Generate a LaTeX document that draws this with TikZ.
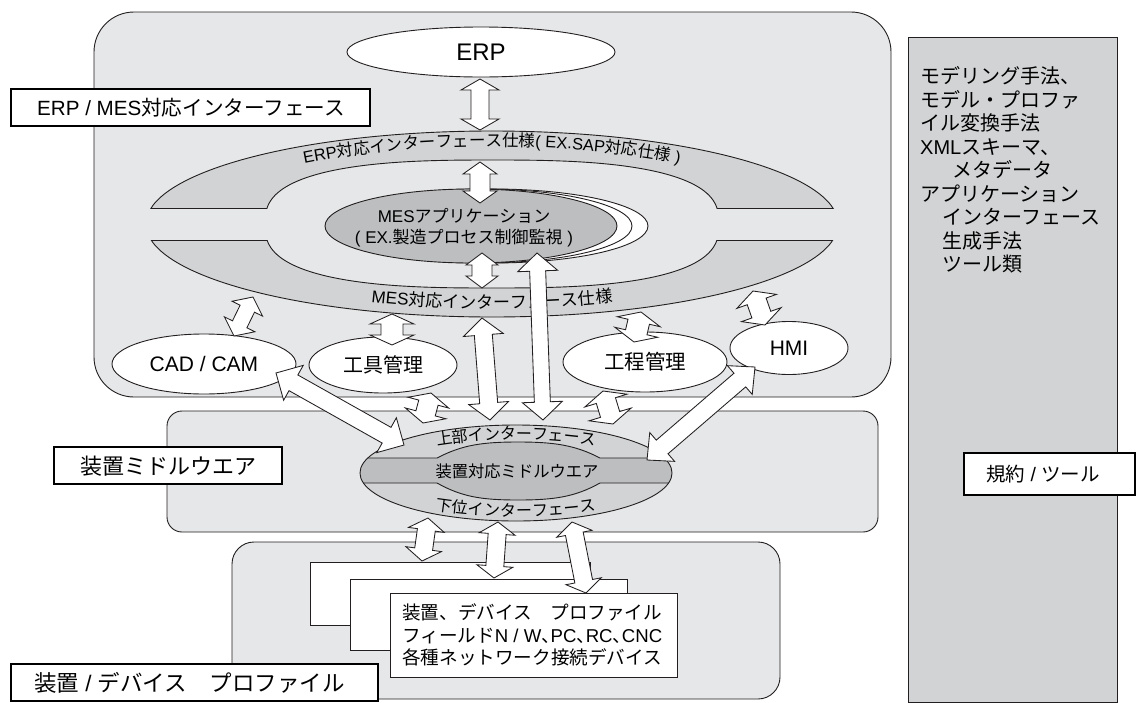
\documentclass[tikz,border=0pt]{standalone}
\usepackage{fontspec}
\setmainfont{Noto Sans CJK JP}
\newfontfamily\jp{Noto Sans CJK JP}
\newfontfamily\lat{Liberation Sans}
\usetikzlibrary{calc,shapes.geometric,decorations.text}
\definecolor{bgA}{HTML}{E6E7E8}
\definecolor{bandC}{HTML}{D1D3D4}
\definecolor{darkC}{HTML}{BCBEC0}
\definecolor{lineC}{HTML}{231F20}
\newcommand\fs[1]{\fontsize{#1}{#1}\selectfont}
\newcommand\hten{\makebox[0.5em][l]{、}}
\newcommand\barrow[5]{%
 \draw[blockarrow] (#1)
 -- ($(#1)!#5pt!(#2)!#4pt!90:(#2)$)
 -- ($(#1)!#5pt!(#2)!#3pt!90:(#2)$)
 -- ($(#2)!#5pt!(#1)!#3pt!-90:(#1)$)
 -- ($(#2)!#5pt!(#1)!#4pt!-90:(#1)$)
 -- (#2)
 -- ($(#2)!#5pt!(#1)!#4pt!90:(#1)$)
 -- ($(#2)!#5pt!(#1)!#3pt!90:(#1)$)
 -- ($(#1)!#5pt!(#2)!#3pt!-90:(#2)$)
 -- ($(#1)!#5pt!(#2)!#4pt!-90:(#2)$)
 -- cycle;}
\begin{document}
\begin{tikzpicture}[x=1pt,y=-1pt,
 rbox/.style={draw=lineC, line width=0.9pt, fill=bgA},
 ln/.style={draw=lineC, line width=0.9pt},
 ell/.style={ellipse, draw=lineC, fill=white, line width=0.9pt, inner sep=0pt},
 blockarrow/.style={draw=lineC, fill=white, line width=0.85pt, line join=miter},
 tag/.style={draw=black, line width=2.4pt, fill=white, inner sep=0pt},
 tagtext/.style={anchor=west, inner sep=0pt}]
\useasboundingbox (0,0) rectangle (1136,702);
\fill[white] (0,0) rectangle (1136,702);

% right column
\draw[ln, fill=bandC] (908,37) rectangle (1117,702);
\node[anchor=west, align=left, inner sep=0pt, font=\fontsize{20}{23.5}\selectfont] (rcol) at (920,170)
 {モデリング手法、\\モデル・プロファ\\イル変換手法\\{\lat XML}スキーマ、\\\hspace*{32pt}メタデータ\\アプリケーション\\\hspace*{22pt}インターフェース\\\hspace*{22pt}生成手法\\\hspace*{22pt}ツール類};

% group boxes
\draw[rbox, rounded corners=40pt] (94,12) rectangle (891,397);
\draw[rbox, rounded corners=15pt] (167,411) rectangle (878,532);
\draw[rbox, rounded corners=22pt] (232,542) rectangle (780,699);

% ERP / MES ring
\begin{scope}
 \clip (0,0) rectangle (1136,208);
 \filldraw[fill=bandC, draw=lineC, line width=0.9pt, even odd rule]
  (492,224) ellipse [x radius=346, y radius=93]
  plot[domain=0.5:360.5, samples=181, variable=\t]
  ({492+227*cos(\t)*abs(cos(\t))^(-0.2593)},{224+64*sin(\t)*abs(sin(\t))^(-0.2593)});
\end{scope}
\begin{scope}
 \clip (0,240) rectangle (1136,702);
 \filldraw[fill=bandC, draw=lineC, line width=0.9pt, even odd rule]
  (492,224) ellipse [x radius=346, y radius=93]
  plot[domain=0.5:360.5, samples=181, variable=\t]
  ({492+227*cos(\t)*abs(cos(\t))^(-0.2593)},{224+64*sin(\t)*abs(sin(\t))^(-0.2593)});
\end{scope}
\draw[ln] (151.2,208) -- (267,208) (717,208) -- (832.8,208)
          (151.2,240) -- (267,240) (717,240) -- (832.8,240);

\path[decorate, decoration={text along path, text align=center, raise=-1pt,
  text={|\fs{16.5}\lat|ERP|\fs{16.5}\jp|対応インターフェース仕様|\fs{16.5}\lat|( EX.SAP|\fs{16.5}\jp|対応仕様|\fs{16.5}\lat| )}}]
  (218.3,190.8) arc[start angle=205, end angle=335, x radius=302, y radius=78.5];
\path[decorate, decoration={text along path, text align=center, raise=-6pt,
  text={|\fs{17}\lat|MES|\fs{17}\jp|対応インターフェース仕様}}]
  (230.5,263.25) arc[start angle=150, end angle=30, x radius=302, y radius=78.5];

% MES application
\filldraw[fill=white, draw=lineC, line width=0.9pt] (492,226) ellipse [x radius=156, y radius=37];
\filldraw[fill=white, draw=lineC, line width=0.9pt] (481,226) ellipse [x radius=151, y radius=37];
\filldraw[fill=darkC, draw=lineC, line width=0.9pt] (471,226) ellipse [x radius=146, y radius=37];
\node[align=center, inner sep=0pt, font=\fontsize{17}{21}\selectfont] (mes) at (464,227.5)
 {{\lat MES}アプリケーション\\{\lat ( EX.}製造プロセス制御監視{\lat\ )}};

% application ellipses
\node[ell, minimum width=268pt, minimum height=50pt, font=\fs{24}\lat] (erp) at (481,52) {ERP};
\node[ell, minimum width=184pt, minimum height=60pt, font=\fs{21}\lat] (cad) at (204,364) {CAD / CAM};
\node[ell, minimum width=148pt, minimum height=56pt, font=\fs{20}] (tool) at (383,365) {工具管理};
\node[ell, minimum width=164pt, minimum height=60pt, font=\fs{20.5}] (proc) at (645,362) {工程管理};
\node[ell, minimum width=118pt, minimum height=53pt, font=\fs{21}\lat] (hmi) at (789,348) {HMI};

% middleware
\begin{scope}
 \clip (516,473) ellipse [x radius=156, y radius=48];
 \fill[bandC] (300,400) rectangle (720,540);
 \filldraw[fill=darkC, draw=lineC, line width=0.9pt] (340,458) -- (437,458)
  .. controls (462,445) and (482,442) .. (518,442)
  .. controls (554,442) and (575,445) .. (600,458) -- (700,458) -- (700,483) -- (600,483)
  .. controls (575,497) and (554,500) .. (518,500)
  .. controls (482,500) and (462,497) .. (437,483) -- (340,483) -- cycle;
\end{scope}
\draw[ln] (516,473) ellipse [x radius=156, y radius=48];
\node[inner sep=0pt, font=\fs{16.3}] (mwt) at (517,471) {装置対応ミドルウエア};
\path[decorate, decoration={text along path, text align=center, raise=-6pt,
  text={|\fs{16}\jp|上部インターフェース}}]
  (375.05,459.49) arc[start angle=200, end angle=340, x radius=150, y radius=39.5];
\path[decorate, decoration={text along path, text align=center, raise=-6pt,
  text={|\fs{16}\jp|下位インターフェース}}]
  (375.05,485.83) arc[start angle=160, end angle=20, x radius=150, y radius=37.5];

% device boxes
\draw[ln, fill=white] (310,562) rectangle (590,625);
\draw[ln, fill=white] (350,579) rectangle (627,650);
\draw[ln, fill=white] (390,593) rectangle (677,677);
\node[anchor=west, align=left, inner sep=0pt, font=\fontsize{18.6}{22.5}\selectfont] (devt) at (402,635)
 {装置、デバイス　プロファイル\\フィールド{\lat N / W}\hten{\lat PC}\hten{\lat RC}\hten{\lat CNC}\\各種ネットワーク接続デバイス};

% arrow end points
\coordinate (erpA) at (480,79);   \coordinate (erpB) at (480,130);
\coordinate (mesA) at (480,162);  \coordinate (mesB) at (480,203);
\coordinate (mesC) at (482,253);  \coordinate (mesD) at (482,288);
\coordinate (lg1A) at (537,253);  \coordinate (lg1B) at (543,420);
\coordinate (lg2A) at (482,318);  \coordinate (lg2B) at (490,420);
\coordinate (cadU) at (253,297);  \coordinate (cadL) at (234,336);
\coordinate (toolU) at (392,314); \coordinate (toolL) at (392,345);
\coordinate (procU) at (641,312); \coordinate (procL) at (634,342);
\coordinate (hmiU) at (753,291);  \coordinate (hmiL) at (765,325);
\coordinate (cadM1) at (276,373); \coordinate (cadM2) at (404,445);
\coordinate (toolM1) at (431,393);\coordinate (toolM2) at (423,423);
\coordinate (procM1) at (603,391);\coordinate (procM2) at (613,424);
\coordinate (hmiM1) at (755,367); \coordinate (hmiM2) at (647,460);
\coordinate (low1A) at (428,518); \coordinate (low1B) at (422,561);
\coordinate (low2A) at (498,522); \coordinate (low2B) at (494,578);
\coordinate (low3A) at (572,522); \coordinate (low3B) at (586,593);

\barrow{erpA}{erpB}{9}{19}{11}
\barrow{mesA}{mesB}{10}{17}{12}
\barrow{mesC}{mesD}{10}{16}{12}
\barrow{lg1A}{lg1B}{8}{20}{18}
\barrow{lg2A}{lg2B}{9}{20}{17}
\barrow{cadU}{cadL}{8}{17}{13}
\barrow{toolU}{toolL}{11}{22}{10}
\barrow{procU}{procL}{11}{22}{10}
\barrow{hmiU}{hmiL}{10}{21}{11}
\barrow{cadM1}{cadM2}{9}{20}{20}
\barrow{toolM1}{toolM2}{10}{21}{10}
\barrow{procM1}{procM2}{10}{22}{10}
\barrow{hmiM1}{hmiM2}{9}{19}{20}
\barrow{low1A}{low1B}{9}{18}{12}
\barrow{low2A}{low2B}{9}{18}{12}
\barrow{low3A}{low3B}{9}{18}{12}

% layer labels
\node[tag, minimum width=359pt, minimum height=37pt, anchor=north west] (lab1) at (10,88) {};
\node[tagtext, font=\fs{20.6}] (lab1t) at ($(lab1.west)+(27pt,0)$) {{\lat ERP / MES}対応インターフェース};
\node[tag, minimum width=228pt, minimum height=37pt, anchor=north west] (lab2) at (53,446) {};
\node[tagtext, font=\fs{22}] (lab2t) at ($(lab2.west)+(27pt,0)$) {装置ミドルウエア};
\node[tag, minimum width=367pt, minimum height=37pt, anchor=north west] (lab3) at (10,663) {};
\node[tagtext, font=\fs{22.5}] (lab3t) at ($(lab3.west)+(24pt,0)$) {装置{\lat\ / }デバイス　プロファイル};
\node[tag, minimum width=171pt, minimum height=42pt, anchor=north west] (lab4) at (963,452) {};
\node[tagtext, font=\fs{19.5}] (lab4t) at ($(lab4.west)+(23pt,0)$) {規約{\lat\ / }ツール};
\end{tikzpicture}
\end{document}
